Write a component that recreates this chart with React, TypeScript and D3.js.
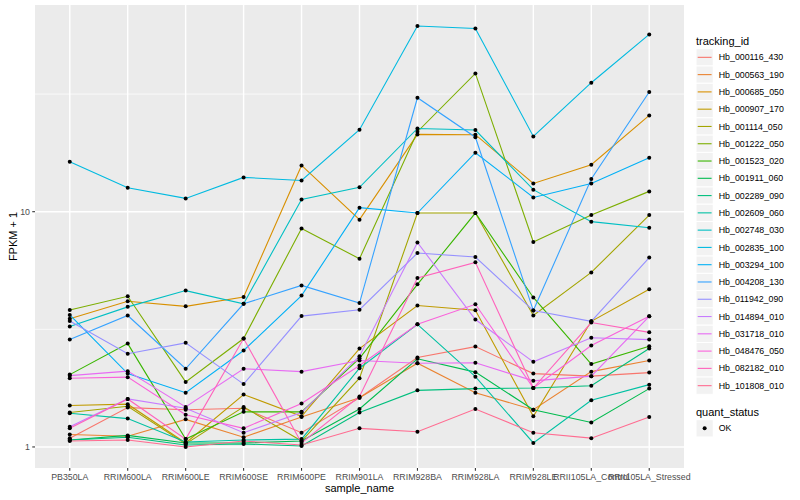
import React from "react";
import * as d3 from "d3";

const samples = [
  "PB350LA", "RRIM600LA", "RRIM600LE", "RRIM600SE", "RRIM600PE", "RRIM901LA",
  "RRIM928BA", "RRIM928LA", "RRIM928LE", "RRII105LA_Control", "RRII105LA_Stressed",
];

const trackingIds = [
  "Hb_000116_430", "Hb_000563_190", "Hb_000685_050", "Hb_000907_170", "Hb_001114_050",
  "Hb_001222_050", "Hb_001523_020", "Hb_001911_060", "Hb_002289_090", "Hb_002609_060",
  "Hb_002748_030", "Hb_002835_100", "Hb_003294_100", "Hb_004208_130", "Hb_011942_090",
  "Hb_014894_010", "Hb_031718_010", "Hb_048476_050", "Hb_082182_010", "Hb_101808_010",
];

const palette = [
  "#F8766D", "#EA8331", "#D89000", "#C09B00", "#A3A500", "#7CAE00", "#39B600", "#00BB4E",
  "#00BF7D", "#00C1A3", "#00BFC4", "#00BAE0", "#00B0F6", "#35A2FF", "#9590FF", "#C77CFF",
  "#E76BF3", "#FA62DB", "#FF62BC", "#FF6C91",
];

// FPKM + 1 per sample (order of `samples`)
const hb_000116_430 = [1.09, 1.47, 1.44, 1.46, 1.15, 1.62, 2.40, 2.67, 2.05, 2.00, 2.07];
const hb_000563_190 = [1.13, 1.11, 1.31, 1.10, 1.34, 1.62, 2.27, 1.70, 1.44, 2.09, 2.33];
const hb_000685_050 = [3.51, 4.16, 3.96, 4.34, 15.73, 9.25, 21.31, 21.25, 13.19, 15.84, 25.66];
const hb_000907_170 = [1.50, 1.52, 1.04, 1.67, 1.35, 2.62, 3.99, 3.81, 1.35, 3.42, 4.68];
const hb_001114_050 = [1.40, 1.49, 1.03, 1.48, 1.06, 1.96, 9.87, 9.87, 3.62, 5.52, 9.68];
const hb_001222_050 = [3.82, 4.37, 1.89, 2.89, 8.49, 6.31, 21.88, 38.71, 7.43, 9.68, 12.20];
const hb_001523_020 = [2.03, 2.75, 1.08, 1.41, 1.41, 2.38, 4.91, 9.87, 4.32, 2.25, 2.68];
const hb_001911_060 = [1.07, 1.12, 1.04, 1.04, 1.06, 1.45, 2.37, 2.08, 1.44, 1.27, 1.77];
const hb_002289_090 = [1.07, 1.10, 1.02, 1.03, 1.01, 1.40, 1.74, 1.77, 1.78, 1.82, 2.62];
const hb_002609_060 = [1.39, 1.32, 1.05, 1.07, 1.08, 2.16, 3.32, 1.99, 1.04, 1.58, 1.84];
const hb_002748_030 = [3.25, 3.94, 4.62, 4.06, 11.28, 12.69, 22.59, 22.24, 12.41, 9.07, 8.55];
const hb_002835_100 = [16.31, 12.65, 11.39, 13.99, 13.58, 22.31, 61.54, 60.12, 20.89, 35.34, 56.70];
const hb_003294_100 = [3.64, 2.05, 1.70, 2.57, 4.40, 10.40, 9.87, 17.81, 11.50, 13.19, 16.96];
const hb_004208_130 = [2.86, 3.62, 2.15, 4.06, 4.86, 4.09, 30.51, 20.73, 3.80, 13.77, 32.27];
const hb_011942_090 = [3.43, 2.49, 2.77, 1.85, 3.60, 3.83, 6.67, 6.42, 3.80, 3.42, 6.38];
const hb_014894_010 = [1.22, 1.60, 1.46, 1.15, 1.40, 2.43, 7.40, 3.48, 2.30, 2.91, 2.86];
const hb_031718_010 = [2.01, 2.10, 1.48, 2.15, 2.09, 2.33, 2.27, 2.28, 1.91, 2.00, 3.59];
const hb_048476_050 = [1.96, 1.98, 1.37, 1.20, 1.53, 2.22, 3.32, 4.04, 1.78, 2.70, 3.59];
const hb_082182_010 = [1.20, 1.60, 1.08, 2.89, 1.04, 1.64, 5.23, 6.09, 1.78, 3.38, 3.07];
const hb_101808_010 = [1.06, 1.07, 1.00, 1.06, 1.02, 1.20, 1.16, 1.45, 1.15, 1.09, 1.34];

const seriesValues = [
  hb_000116_430, hb_000563_190, hb_000685_050, hb_000907_170, hb_001114_050,
  hb_001222_050, hb_001523_020, hb_001911_060, hb_002289_090, hb_002609_060,
  hb_002748_030, hb_002835_100, hb_003294_100, hb_004208_130, hb_011942_090,
  hb_014894_010, hb_031718_010, hb_048476_050, hb_082182_010, hb_101808_010,
];

const yMajor = [1, 10];
const yTickLabels = ["1", "10"];
const quantLevels = ["OK"];

const W = 800;
const H = 500;
const P = { l: 35, r: 684, t: 5, b: 468 };
const FONT = "'Liberation Sans', Arial, Helvetica, sans-serif";

export default function App() {
  const x = d3.scalePoint<string>().domain(samples).range([P.l, P.r]).padding(0.6);
  const allLogs = seriesValues.flat().map((v) => Math.log10(v));
  const lo = d3.min(allLogs) as number;
  const hi = d3.max(allLogs) as number;
  const pad = (hi - lo) * 0.05;
  const y = d3.scaleLog().domain([10 ** (lo - pad), 10 ** (hi + pad)]).range([P.b, P.t]);

  const minorLogs = [-0.5, 0.5, 1.5, 2.5].filter((l) => l > lo - pad && l < hi + pad);

  const line = d3
    .line<number>()
    .x((_, i) => x(samples[i]) as number)
    .y((v) => y(v));

  const keyH = 17.28;
  const legX = 696;
  const key0 = 48.7;

  return (
    <svg width={W} height={H} style={{ position: "absolute", left: 0, top: 0, background: "#fff" }} fontFamily={FONT}>
      <rect x={0} y={0} width={W} height={H} fill="#fff" />
      <rect x={P.l} y={P.t} width={P.r - P.l} height={P.b - P.t} fill="#EBEBEB" />
      {minorLogs.map((l) => (
        <line key={"mn" + l} x1={P.l} x2={P.r} y1={y(10 ** l)} y2={y(10 ** l)} stroke="#fff" strokeWidth={0.71} />
      ))}
      {yMajor.map((v) => (
        <line key={"mj" + v} x1={P.l} x2={P.r} y1={y(v)} y2={y(v)} stroke="#fff" strokeWidth={1.42} />
      ))}
      {samples.map((s) => (
        <line key={"vx" + s} x1={x(s)} x2={x(s)} y1={P.t} y2={P.b} stroke="#fff" strokeWidth={1.42} />
      ))}

      {seriesValues.map((vals, i) => (
        <path key={"l" + i} d={line(vals) || ""} fill="none" stroke={palette[i]} strokeWidth={1.1} />
      ))}
      {seriesValues.map((vals, i) =>
        vals.map((v, j) => (
          <circle key={"p" + i + "_" + j} cx={x(samples[j])} cy={y(v)} r={2} fill="#000" />
        ))
      )}

      {/* y axis */}
      {yMajor.map((v, i) => (
        <g key={"yt" + v}>
          <line x1={P.l - 2.75} x2={P.l} y1={y(v)} y2={y(v)} stroke="#333" strokeWidth={1.07} />
          <text x={P.l - 5} y={y(v)} dy="0.35em" textAnchor="end" fontSize={8.8} fill="#4D4D4D">
            {yTickLabels[i]}
          </text>
        </g>
      ))}
      {/* x axis */}
      {samples.map((s) => (
        <g key={"xt" + s}>
          <line x1={x(s)} x2={x(s)} y1={P.b} y2={P.b + 2.75} stroke="#333" strokeWidth={1.07} />
          <text x={x(s)} y={P.b + 12.3} textAnchor="middle" fontSize={8.8} fill="#4D4D4D">
            {s}
          </text>
        </g>
      ))}
      <text x={(P.l + P.r) / 2} y={492} textAnchor="middle" fontSize={11} fill="#000">
        sample_name
      </text>
      <text transform={`translate(16.5,${(P.t + P.b) / 2}) rotate(-90)`} textAnchor="middle" fontSize={11} fill="#000">
        FPKM + 1
      </text>

      {/* legend: tracking_id */}
      <text x={legX} y={44.5} fontSize={11} fill="#000">tracking_id</text>
      {trackingIds.map((id, i) => {
        const top = key0 + i * keyH;
        return (
          <g key={"lg" + id}>
            <rect x={legX} y={top} width={keyH} height={keyH} fill="#F2F2F2" stroke="#fff" strokeWidth={1} />
            <line x1={legX + 1.7} x2={legX + keyH - 1.7} y1={top + keyH / 2} y2={top + keyH / 2} stroke={palette[i]} strokeWidth={1.1} />
            <text x={legX + keyH + 5.5} y={top + keyH / 2} dy="0.35em" fontSize={8.8} fill="#000">
              {id}
            </text>
          </g>
        );
      })}

      {/* legend: quant_status */}
      <text x={legX} y={415.5} fontSize={11} fill="#000">quant_status</text>
      {quantLevels.map((q, i) => {
        const top = 419.7 + i * keyH;
        return (
          <g key={"q" + q}>
            <rect x={legX} y={top} width={keyH} height={keyH} fill="#F2F2F2" stroke="#fff" strokeWidth={1} />
            <circle cx={legX + keyH / 2} cy={top + keyH / 2} r={2} fill="#000" />
            <text x={legX + keyH + 5.5} y={top + keyH / 2} dy="0.35em" fontSize={8.8} fill="#000">
              {q}
            </text>
          </g>
        );
      })}
    </svg>
  );
}
